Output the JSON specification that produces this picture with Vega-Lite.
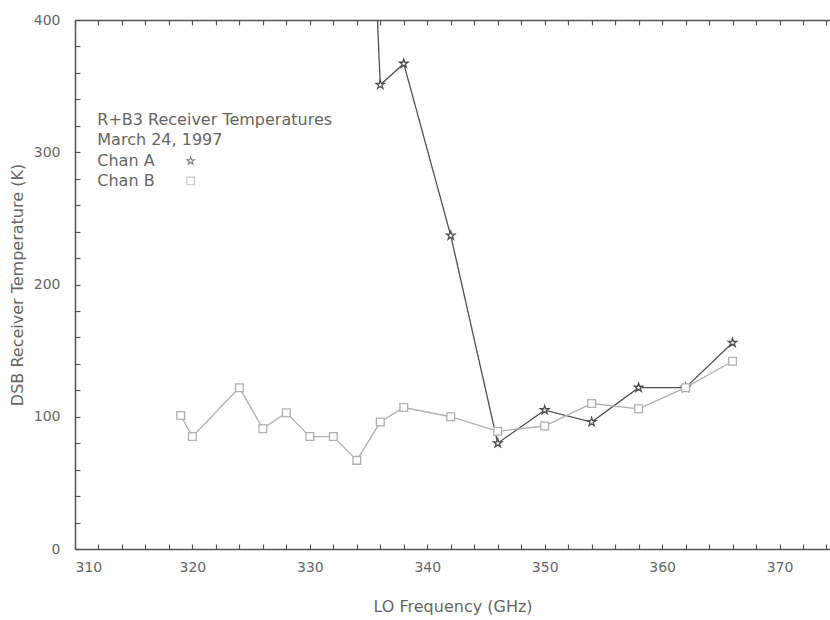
{
  "$schema": "https://vega.github.io/schema/vega-lite/v6.json",
  "width": 755,
  "height": 529,
  "autosize": "none",
  "padding": {"left": 75, "top": 20, "right": 0, "bottom": 71},
  "background": "white",
  "config": {
    "view": {"stroke": null},
    "font": "DejaVu Sans",
    "axis": {
      "grid": false,
      "domainColor": "#555555",
      "domainWidth": 1.5,
      "tickColor": "#555555",
      "tickWidth": 1.2,
      "tickSize": -5,
      "labelColor": "#666666",
      "labelFont": "DejaVu Sans",
      "labelFontSize": 14,
      "titleColor": "#666666",
      "titleFont": "DejaVu Sans",
      "titleFontSize": 16,
      "titleFontWeight": "normal"
    }
  },
  "datasets": {
    "meas": [
      {"series": "Chan A", "freq": 334, "temp": 760},
      {"series": "Chan A", "freq": 336, "temp": 351},
      {"series": "Chan A", "freq": 338, "temp": 367},
      {"series": "Chan A", "freq": 342, "temp": 237},
      {"series": "Chan A", "freq": 346, "temp": 80},
      {"series": "Chan A", "freq": 350, "temp": 105},
      {"series": "Chan A", "freq": 354, "temp": 96},
      {"series": "Chan A", "freq": 358, "temp": 122},
      {"series": "Chan A", "freq": 362, "temp": 122},
      {"series": "Chan A", "freq": 366, "temp": 156},
      {"series": "Chan B", "freq": 319, "temp": 101},
      {"series": "Chan B", "freq": 320, "temp": 85},
      {"series": "Chan B", "freq": 324, "temp": 122},
      {"series": "Chan B", "freq": 326, "temp": 91},
      {"series": "Chan B", "freq": 328, "temp": 103},
      {"series": "Chan B", "freq": 330, "temp": 85},
      {"series": "Chan B", "freq": 332, "temp": 85},
      {"series": "Chan B", "freq": 334, "temp": 67},
      {"series": "Chan B", "freq": 336, "temp": 96},
      {"series": "Chan B", "freq": 338, "temp": 107},
      {"series": "Chan B", "freq": 342, "temp": 100},
      {"series": "Chan B", "freq": 346, "temp": 89},
      {"series": "Chan B", "freq": 350, "temp": 93},
      {"series": "Chan B", "freq": 354, "temp": 110},
      {"series": "Chan B", "freq": 358, "temp": 106},
      {"series": "Chan B", "freq": 362, "temp": 122},
      {"series": "Chan B", "freq": 366, "temp": 142}
    ],
    "notes": [
      {"text": "R+B3 Receiver Temperatures", "freq": 311.9, "temp": 324.4},
      {"text": "March 24, 1997", "freq": 311.9, "temp": 309.3},
      {"text": "Chan A", "freq": 311.9, "temp": 293.4},
      {"text": "Chan B", "freq": 311.9, "temp": 278.3}
    ],
    "keys": [
      {"series": "Chan A", "freq": 319.85, "temp": 293.4},
      {"series": "Chan B", "freq": 319.85, "temp": 278.3}
    ]
  },
  "resolve": {"axis": {"x": "independent", "y": "independent"}},
  "layer": [
    {
      "data": {"name": "meas"},
      "mark": {"type": "line", "clip": true, "strokeWidth": 1.3},
      "encoding": {
        "x": {
          "field": "freq", "type": "quantitative",
          "scale": {"domain": [310, 374.3], "nice": false, "zero": false},
          "axis": {
            "orient": "bottom",
            "values": [310,312,314,316,318,320,322,324,326,328,330,332,334,336,338,340,342,344,346,348,350,352,354,356,358,360,362,364,366,368,370,372,374],
            "labelExpr": "datum.value % 10 === 0 ? datum.label : ''",
            "labelPadding": 16,
            "title": "LO Frequency (GHz)",
            "titlePadding": 24
          }
        },
        "y": {
          "field": "temp", "type": "quantitative",
          "scale": {"domain": [0, 400], "nice": false},
          "axis": {
            "orient": "left",
            "values": [0,20,40,60,80,100,120,140,160,180,200,220,240,260,280,300,320,340,360,380,400],
            "labelExpr": "datum.value % 100 === 0 ? datum.label : ''",
            "labelPadding": 20,
            "title": "DSB Receiver Temperature (K)",
            "titlePadding": 8
          }
        },
        "color": {
          "field": "series", "type": "nominal",
          "scale": {"domain": ["Chan A", "Chan B"], "range": ["#505050", "#b0b0b0"]},
          "legend": null
        },
        "order": {"field": "freq", "type": "quantitative"}
      }
    },
    {
      "data": {"name": "meas"},
      "mark": {"type": "point", "clip": true, "filled": false, "strokeWidth": 1.3, "fill": "white", "fillOpacity": 1},
      "encoding": {
        "x": {
          "field": "freq", "type": "quantitative",
          "axis": {
            "orient": "top",
            "values": [310,312,314,316,318,320,322,324,326,328,330,332,334,336,338,340,342,344,346,348,350,352,354,356,358,360,362,364,366,368,370,372,374],
            "labels": false, "title": null
          }
        },
        "y": {"field": "temp", "type": "quantitative", "axis": null},
        "color": {"field": "series", "type": "nominal", "legend": null},
        "shape": {
          "field": "series", "type": "nominal",
          "scale": {"domain": ["Chan A", "Chan B"], "range": ["M0,-1L0.2245,-0.309L0.951,-0.309L0.363,0.118L0.588,0.809L0,0.382L-0.588,0.809L-0.363,0.118L-0.951,-0.309L-0.2245,-0.309Z", "square"]},
          "legend": null
        },
        "size": {
          "field": "series", "type": "nominal",
          "scale": {"domain": ["Chan A", "Chan B"], "range": [80, 60]},
          "legend": null
        }
      }
    },
    {
      "data": {"name": "notes"},
      "mark": {"type": "text", "align": "left", "baseline": "middle", "font": "DejaVu Sans", "fontSize": 16, "color": "#666666"},
      "encoding": {
        "x": {"field": "freq", "type": "quantitative", "axis": null},
        "y": {"field": "temp", "type": "quantitative", "axis": null},
        "text": {"field": "text"}
      }
    },
    {
      "data": {"name": "keys"},
      "mark": {"type": "point", "filled": false, "strokeWidth": 1.1},
      "encoding": {
        "x": {"field": "freq", "type": "quantitative", "axis": null},
        "y": {"field": "temp", "type": "quantitative", "axis": null},
        "color": {"field": "series", "type": "nominal", "scale": {"domain": ["Chan A", "Chan B"], "range": ["#909090", "#b0b0b0"]}, "legend": null},
        "shape": {"field": "series", "type": "nominal", "legend": null},
        "size": {"value": 60}
      }
    }
  ]
}
